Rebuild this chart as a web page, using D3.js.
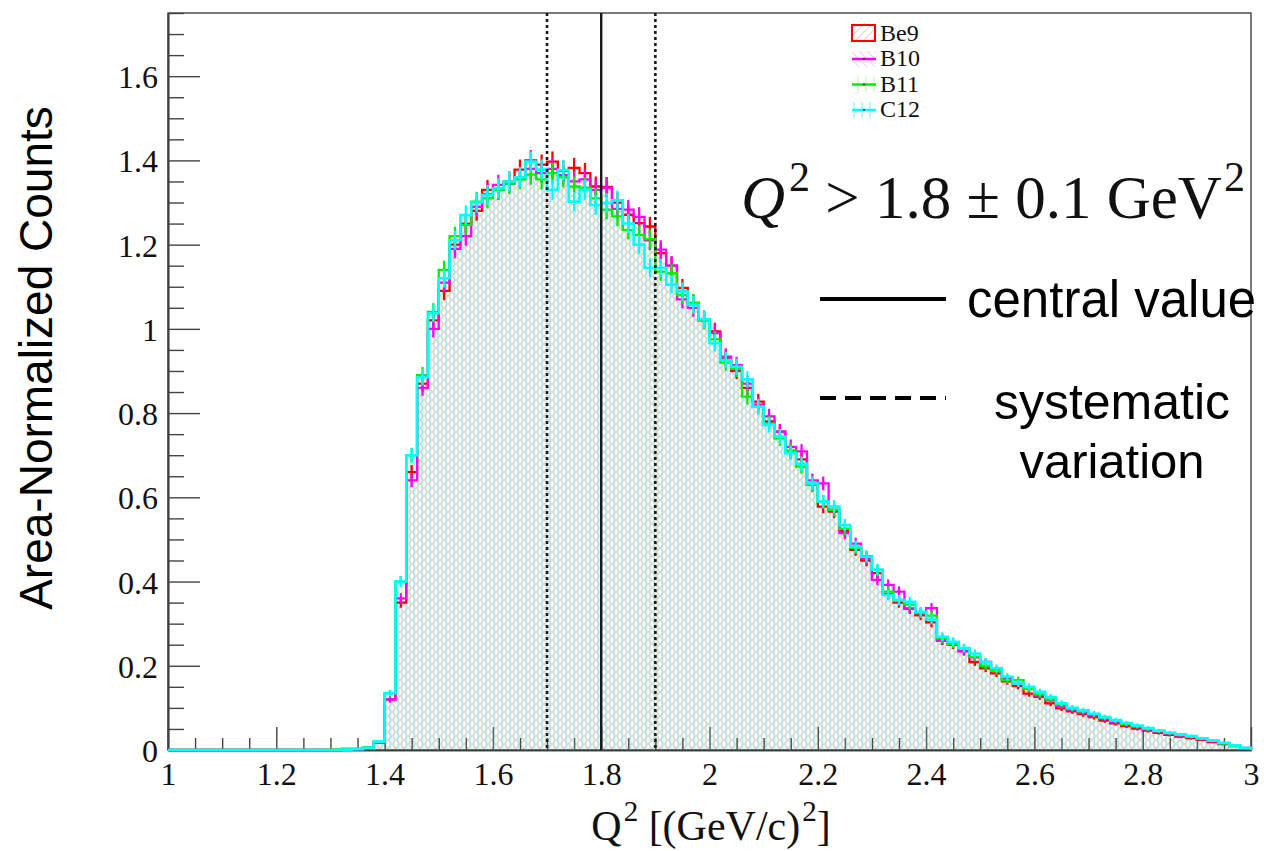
<!DOCTYPE html>
<html><head><meta charset="utf-8">
<script src="https://cdn.jsdelivr.net/npm/d3@7"></script>
<style>body{margin:0;background:#fff;} svg{display:block}</style>
</head><body>
<svg id="chart" width="1264" height="851"></svg>
<script>
// ---------------- data ----------------
const binStart = 1.0;      // Q^2 of first bin's low edge
const binWidth = 0.02;     // 100 bins from 1 to 3
const seriesNames = ["Be9", "B10", "B11", "C12"];
const be9 = [0,0,0,0,0,0,0,0,0,0,0,0,0,0,0,
  0,0.001,0.002,0.005,0.018, 0.12,0.35,0.66,0.87,1.02, 1.09,1.20,1.25,1.28,1.33,
  1.33,1.35,1.378,1.40,1.39, 1.397,1.375,1.382,1.37,1.338, 1.337,1.30,1.271,1.251,1.243,
  1.18,1.15,1.097,1.06,1.023, 0.994,0.93,0.90,0.86,0.827, 0.78,0.756,0.71,0.69,0.63,
  0.578,0.566,0.52,0.475,0.45, 0.42,0.37,0.35,0.335,0.32, 0.303,0.26,0.25,0.235,0.209,
  0.194,0.182,0.163,0.152,0.134, 0.126,0.111,0.099,0.092,0.085, 0.078,0.07,0.063,0.057,0.051,
  0.046,0.041,0.036,0.032,0.028, 0.024,0.019,0.014,0.009,0.004];
const b10 = [0,0,0,0,0,0,0,0,0,0,0,0,0,0,0,
  0,0.001,0.002,0.005,0.017, 0.12,0.36,0.64,0.86,1.00, 1.11,1.19,1.22,1.29,1.32,
  1.342,1.345,1.36,1.38,1.37, 1.38,1.365,1.35,1.355,1.33, 1.335,1.285,1.283,1.266,1.21,
  1.188,1.15,1.07,1.05,1.02, 0.99,0.934,0.914,0.87,0.82, 0.792,0.756,0.72,0.709,0.64,
  0.633,0.57,0.515,0.49,0.455, 0.404,0.392,0.376,0.336,0.325, 0.337,0.261,0.255,0.234,0.22,
  0.209,0.19,0.17,0.158,0.145, 0.13,0.118,0.105,0.096,0.089, 0.082,0.074,0.067,0.06,0.055,
  0.049,0.044,0.039,0.035,0.031, 0.026,0.021,0.016,0.01,0.005];
const b11 = [0,0,0,0,0,0,0,0,0,0,0,0,0,0,0,
  0.001,0.003,0.003,0.006,0.02, 0.135,0.40,0.70,0.89,1.04, 1.14,1.22,1.247,1.302,1.31,
  1.33,1.345,1.355,1.366,1.355, 1.37,1.36,1.338,1.335,1.31, 1.283,1.267,1.235,1.223,1.213,
  1.136,1.132,1.08,1.062,1.02, 0.975,0.92,0.905,0.839,0.815, 0.775,0.74,0.71,0.673,0.63,
  0.59,0.57,0.525,0.48,0.46, 0.428,0.376,0.355,0.345,0.325, 0.319,0.265,0.252,0.242,0.221,
  0.20,0.188,0.166,0.166,0.145, 0.132,0.12,0.108,0.099,0.092, 0.085,0.077,0.069,0.062,0.056,
  0.05,0.045,0.04,0.036,0.032, 0.027,0.022,0.016,0.01,0.004];
const c12 = [0,0,0,0,0,0,0,0,0,0,0,0,0,0,0,
  0,0.001,0.002,0.005,0.02, 0.135,0.40,0.70,0.885,1.037, 1.12,1.21,1.27,1.30,1.318,
  1.334,1.35,1.36,1.397,1.378, 1.33,1.377,1.302,1.33,1.294, 1.299,1.305,1.25,1.20,1.145,
  1.145,1.105,1.089,1.057,1.023, 0.966,0.926,0.91,0.88,0.815, 0.772,0.744,0.705,0.68,0.633,
  0.59,0.578,0.534,0.483,0.459, 0.428,0.368,0.356,0.352,0.328, 0.31,0.269,0.257,0.242,0.229,
  0.209,0.194,0.174,0.158,0.150, 0.138,0.126,0.111,0.10,0.094, 0.086,0.078,0.071,0.064,0.058,
  0.052,0.046,0.041,0.037,0.033, 0.028,0.022,0.017,0.011,0.005];
const errScale = 0.0205;   // statistical error ~ errScale*sqrt(content)
const xTickValues = [1, 1.2, 1.4, 1.6, 1.8, 2, 2.2, 2.4, 2.6, 2.8, 3];
const xTickLabels = ["1", "1.2", "1.4", "1.6", "1.8", "2", "2.2", "2.4", "2.6", "2.8", "3"];
const yTickValues = [0, 0.2, 0.4, 0.6, 0.8, 1, 1.2, 1.4, 1.6];
const yTickLabels = ["0", "0.2", "0.4", "0.6", "0.8", "1", "1.2", "1.4", "1.6"];
const cutValues = [1.7, 1.8, 1.9];
const cutStyles = ["dot", "solid", "dot"];

// ---------------- drawing ----------------
const svg = d3.select("#chart");
const x = d3.scaleLinear().domain([1, 3]).range([168, 1251]);
const y = d3.scaleLinear().domain([0, 1.75]).range([750, 13]);

const colors = {Be9: "#ff0000", B10: "#ff00ff", B11: "#00ee00", C12: "#00ffff"};
const seriesData = {Be9: be9, B10: b10, B11: b11, C12: c12};

// patterns
const defs = svg.append("defs");
function pat(id, color, kind, op) {
  const p = defs.append("pattern").attr("id", id).attr("patternUnits", "userSpaceOnUse")
    .attr("width", 8).attr("height", 8);
  let d;
  if (kind === "fwd") d = "M-2,2 L2,-2 M0,8 L8,0 M6,10 L10,6";
  else if (kind === "bwd") d = "M-2,6 L2,10 M0,0 L8,8 M6,-2 L10,2";
  else if (kind === "v1") d = "M2,0 L2,8";
  else d = "M6,0 L6,8";
  p.append("path").attr("d", d).attr("stroke", color).attr("stroke-opacity", op)
    .attr("stroke-width", 1.2).attr("fill", "none");
}
pat("pBe9", "#e04040", "fwd", 0.26);
pat("pB10", "#d040d0", "bwd", 0.24);
pat("pB11", "#00dd00", "v1", 0.26);
pat("pC12", "#00e8e8", "v2", 0.46);

// axes (drawn first so histogram lines cover them)
const yMinor = d3.range(0, 1.7501, 0.05).filter(v => Math.abs(v / 0.2 - Math.round(v / 0.2)) > 1e-6);
const xMinor = d3.range(1, 3.0001, 0.05).filter(v => Math.abs((v - 1) / 0.2 - Math.round((v - 1) / 0.2)) > 1e-6);

const gAx = svg.append("g").attr("class", "axes");
const yAxis = d3.axisLeft(y).tickValues(yTickValues).tickFormat((d, i) => yTickLabels[i])
  .tickSize(-32).tickSizeOuter(0).tickPadding(10);
const yAxisMinor = d3.axisLeft(y).tickValues(yMinor).tickFormat("").tickSize(-16).tickSizeOuter(0);
const xAxis = d3.axisBottom(x).tickValues(xTickValues).tickFormat((d, i) => xTickLabels[i])
  .tickSize(-23).tickSizeOuter(0).tickPadding(12);
const xAxisMinor = d3.axisBottom(x).tickValues(xMinor).tickFormat("").tickSize(-12).tickSizeOuter(0);

function styleAxis(g) {
  g.selectAll("path.domain").attr("stroke", "#333").attr("stroke-width", 1.6);
  g.selectAll(".tick line").attr("stroke", "#444").attr("stroke-width", 1.4);
  g.selectAll("text").attr("font-family", "'Liberation Serif', 'Times New Roman', serif")
    .attr("font-size", 32).attr("fill", "#111");
}
gAx.append("g").attr("transform", "translate(168,0)").call(yAxisMinor).call(styleAxis);
gAx.append("g").attr("transform", "translate(168,0)").call(yAxis).call(styleAxis)
  .selectAll("text").attr("dy", "0.36em");
gAx.append("g").attr("transform", "translate(0,750)").call(xAxisMinor).call(styleAxis);
gAx.append("g").attr("transform", "translate(0,750)").call(xAxis).call(styleAxis);

// frame
svg.append("rect").attr("x", x(1)).attr("y", y(1.75)).attr("width", x(3) - x(1)).attr("height", y(0) - y(1.75))
  .attr("fill", "none").attr("stroke", "#444").attr("stroke-width", 1.4);

// histograms
function stepPoints(vals) {
  const pts = [[binStart, 0]];
  vals.forEach((v, i) => {
    const lo = binStart + i * binWidth, hi = lo + binWidth;
    pts.push([lo, v], [hi, v]);
  });
  pts.push([binStart + vals.length * binWidth, 0]);
  return pts;
}
const line = d3.line().x(d => x(d[0])).y(d => y(d[1]));
const area = d3.area().x(d => x(d[0])).y0(y(0)).y1(d => y(d[1]));

const gH = svg.append("g").attr("class", "hists");
seriesNames.forEach(name => {
  const vals = seriesData[name];
  const pts = stepPoints(vals);
  gH.append("path").attr("d", area(pts)).attr("fill", "url(#p" + name + ")").attr("stroke", "none");
});
seriesNames.forEach(name => {
  const vals = seriesData[name];
  const pts = stepPoints(vals);
  const g = gH.append("g");
  g.append("path").attr("d", line(pts)).attr("fill", "none").attr("stroke", colors[name])
    .attr("stroke-width", name === "C12" ? 2.6 : 2.3);
  g.selectAll("line.err").data(vals.map((v, i) => ({v, i})).filter(d => d.v > 0.004))
    .join("line").attr("class", "err")
    .attr("x1", d => x(binStart + (d.i + 0.5) * binWidth))
    .attr("x2", d => x(binStart + (d.i + 0.5) * binWidth))
    .attr("y1", d => y(d.v - errScale * Math.sqrt(d.v)))
    .attr("y2", d => y(d.v + errScale * Math.sqrt(d.v)))
    .attr("stroke", colors[name]).attr("stroke-width", 2.3);
});

// cut lines
const gC = svg.append("g");
cutValues.forEach((c, i) => {
  gC.append("line").attr("x1", x(c)).attr("x2", x(c)).attr("y1", y(1.75)).attr("y2", y(0))
    .attr("stroke", "#1a1a1a").attr("stroke-width", cutStyles[i] === "solid" ? 2.4 : 2.6)
    .attr("stroke-dasharray", cutStyles[i] === "solid" ? null : "3,3");
});

// legend (top)
const leg = svg.append("g").attr("font-family", "'Liberation Serif', 'Times New Roman', serif")
  .attr("font-size", 24).attr("fill", "#111");
const legY = [41, 66, 91.5, 117];
seriesNames.forEach((name, i) => {
  const yy = legY[i];
  if (name === "Be9") {
    leg.append("rect").attr("x", 852).attr("y", yy - 16).attr("width", 23).attr("height", 16)
      .attr("fill", "url(#pBe9)").attr("stroke", colors[name]).attr("stroke-width", 2);
  } else {
    leg.append("rect").attr("x", 852).attr("y", yy - 15).attr("width", 24).attr("height", 16)
      .attr("fill", "url(#p" + name + ")").attr("stroke", "none");
    leg.append("line").attr("x1", 852).attr("x2", 876).attr("y1", yy - 7).attr("y2", yy - 7)
      .attr("stroke", colors[name]).attr("stroke-width", 2.5);
    leg.append("circle").attr("cx", 864).attr("cy", yy - 7).attr("r", 1).attr("fill", "#333");
  }
  leg.append("text").attr("x", 880).attr("y", yy).text(name);
});

// cut annotation
const ann = svg.append("text").attr("x", 741).attr("y", 218)
  .attr("font-family", "'Liberation Serif', 'Times New Roman', serif").attr("font-size", 61).attr("fill", "#111");
ann.append("tspan").attr("font-style", "italic").text("Q");
ann.append("tspan").attr("font-size", 42).attr("dy", -27).attr("dx", 4).text("2");
ann.append("tspan").attr("dy", 27).text(" > 1.8 \u00b1 0.1  GeV");
ann.append("tspan").attr("font-size", 42).attr("dy", -27).attr("dx", 2).text("2");

const sans = "'Liberation Sans', Arial, Helvetica, sans-serif";
svg.append("line").attr("x1", 820).attr("x2", 946).attr("y1", 299).attr("y2", 299)
  .attr("stroke", "#000").attr("stroke-width", 4);
svg.append("text").attr("x", 967).attr("y", 317).attr("font-family", sans).attr("font-size", 51)
  .attr("fill", "#000").text("central value");
svg.append("line").attr("x1", 820).attr("x2", 946).attr("y1", 398).attr("y2", 398)
  .attr("stroke", "#000").attr("stroke-width", 4).attr("stroke-dasharray", "16,9");
svg.append("text").attr("x", 1112).attr("y", 419).attr("text-anchor", "middle").attr("font-family", sans)
  .attr("font-size", 50).attr("fill", "#000").text("systematic");
svg.append("text").attr("x", 1112).attr("y", 478).attr("text-anchor", "middle").attr("font-family", sans)
  .attr("font-size", 49).attr("fill", "#000").text("variation");

// axis titles
svg.append("text").attr("transform", "translate(52,358) rotate(-90)").attr("text-anchor", "middle")
  .attr("font-family", sans).attr("font-size", 46).attr("fill", "#000").text("Area-Normalized Counts");
const xt = svg.append("text").attr("x", 711).attr("y", 840).attr("text-anchor", "middle")
  .attr("font-family", "'Liberation Serif', 'Times New Roman', serif").attr("font-size", 42).attr("fill", "#111");
xt.append("tspan").text("Q");
xt.append("tspan").attr("font-size", 29).attr("dy", -19).attr("dx", 2).text("2");
xt.append("tspan").attr("dy", 19).text(" [(GeV/c)");
xt.append("tspan").attr("font-size", 29).attr("dy", -19).attr("dx", 2).text("2");
xt.append("tspan").attr("dy", 19).text("]");
</script>
</body></html>
